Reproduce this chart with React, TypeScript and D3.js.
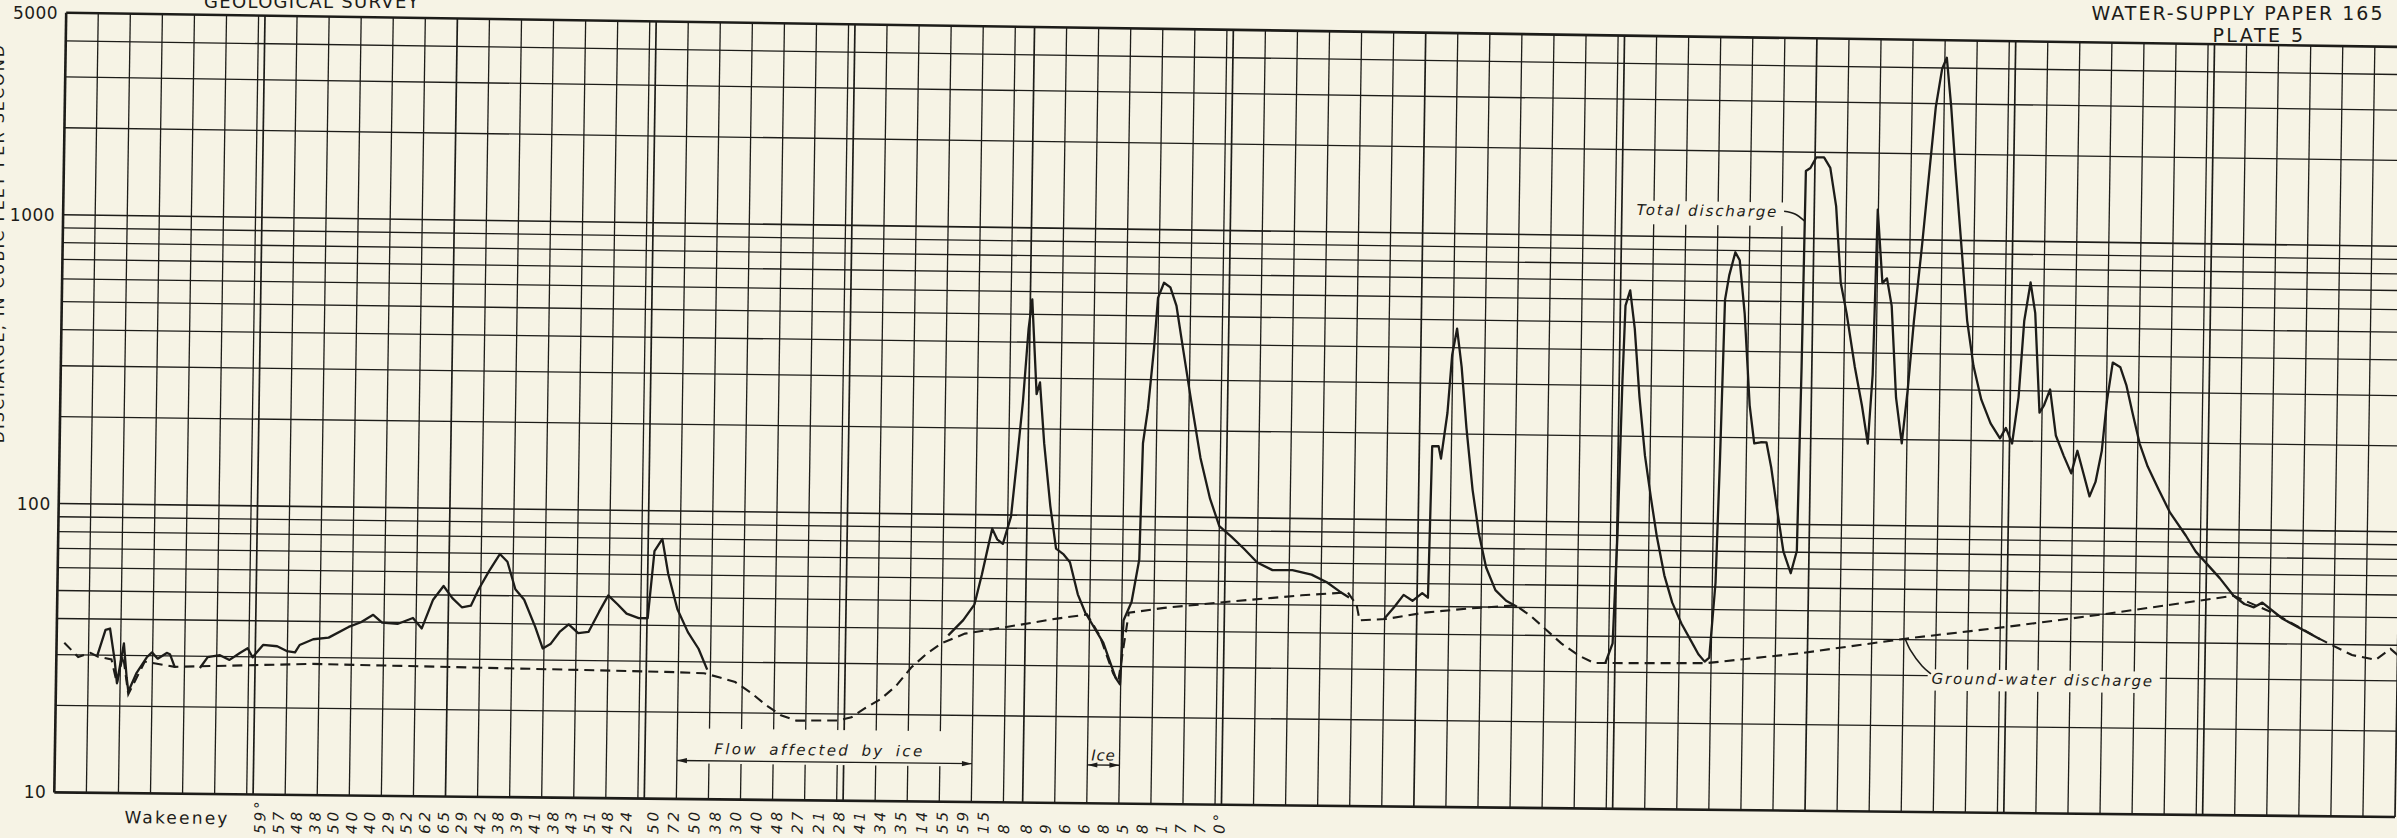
import React from "react";
import * as d3 from "d3";

// Hydrograph on log paper, water year Oct 1 - Sep 30 (day 0 = Oct 1)

const PAPER = "#f6f3e5";
const INK = "#1d1c19";

const monthLengths = [31, 30, 31, 31, 28, 31, 30, 31, 30, 31, 31, 30];
const gridStepDays = 5;
const yTickLabels = [10, 100, 1000, 5000];

// total discharge, [day of water year, cfs]; null breaks the line
const totalDischarge: ([number, number] | null)[] = [
  [6.4, 30], [7.6, 36.7], [8.3, 37.1], [9.1, 28.8], [9.5, 24], [10.5, 33], [11.0, 25.2], [11.3, 22.5],
  [12.5, 26], [14.1, 29.6], [14.9, 30.8], [15.8, 29.3], [17.2, 30.7], [17.7, 30.4], [18.5, 27.4],
  null,
  [22.4, 27.3], [23.6, 29.8], [25.5, 30.3], [27.0, 29.2], [28.6, 30.9], [29.8, 32.1], [30.6, 29.9],
  [32.2, 33.0], [34.4, 32.7], [35.9, 31.5], [37.2, 31.2], [37.9, 33.1], [40.0, 34.7], [42.4, 35.2],
  [45.5, 38.4], [47.4, 39.9], [49.3, 42.4], [50.7, 39.9], [53.1, 39.5], [55.5, 41.5], [56.9, 38.2],
  [58.6, 48.1], [60.2, 53.7], [61.6, 48.8], [63.1, 45.4], [64.5, 46.0], [65.7, 52.6], [67.3, 61.0],
  [68.9, 69.7], [70.1, 65.6], [71.4, 52.7], [72.8, 48.5], [74.6, 39.0], [75.8, 32.9], [77.0, 34.1],
  [78.4, 37.6], [79.8, 40.0], [81.3, 37.3], [82.9, 37.7], [84.5, 44.3], [85.9, 50.6], [87.4, 47.1],
  [88.8, 43.8], [90.7, 42.3], [92.1, 42.3], [93.0, 72.4], [94.2, 79.9], [95.2, 60.4], [96.7, 45.7],
  [98.4, 38.0], [100.1, 33.3], [101.5, 28.2],
  null,
  [139, 37.9], [141.3, 42.9], [143.0, 48.6], [144.1, 61.9], [145.0, 77.3], [145.6, 89.5], [146.4, 82.2],
  [147.3, 79.3], [148.5, 98.7], [149.3, 155], [150.1, 251], [150.8, 446], [151.3, 564], [152.2, 264],
  [152.7, 290], [153.5, 178], [154.6, 108], [155.6, 76.7], [156.8, 73.3], [157.8, 68.9], [159.1, 53.3],
  [160.3, 46.1], [163.2, 36.2], [165.2, 27.4], [165.9, 26], [166.3, 43.5], [167.5, 50.4], [168.6, 70.9],
  [168.9, 180], [169.6, 238], [170.4, 386], [170.9, 578], [171.8, 653], [172.8, 630], [173.8, 543],
  [174.8, 400], [176.3, 255], [177.9, 161], [179.5, 116], [181.0, 93.4], [182.9, 85.9], [184.9, 78.0],
  [187.0, 70.0], [189.4, 65.9], [192.5, 66], [195.5, 63.8], [197.9, 60.1], [199.9, 55.9], [201.4, 53.3],
  null,
  [206.9, 45], [208.5, 49.7], [209.9, 54.7], [211.3, 52.2], [212.8, 55.6], [213.7, 53.6], [214.0, 181],
  [215.0, 181], [215.4, 164], [216.3, 237], [216.9, 378], [217.6, 466], [218.4, 343], [219.3, 210],
  [220.4, 128], [221.5, 89.8], [222.7, 68.7], [224.2, 57.3], [225.9, 52.7], [227.6, 50.3],
  null,
  [241.5, 32.2], [242.6, 37.8], [243.1, 90.5], [243.5, 309], [243.8, 571], [244.5, 646], [245.3, 475],
  [246.2, 274], [247.2, 171], [248.2, 123], [249.2, 90.5], [250.5, 65.6], [251.8, 52.7], [253.3, 44.5],
  [254.8, 38.9], [256.0, 34.9], [257.0, 32.9], [257.7, 34], [258.5, 62.1], [258.9, 168], [259.3, 604],
  [259.9, 736], [260.8, 887], [261.5, 832], [262.4, 542], [263.4, 259], [264.2, 191], [265.2, 193],
  [266.1, 193], [266.9, 158], [268.0, 110], [269.0, 80.5], [270.2, 67.5], [271.1, 80.8], [271.4, 355],
  [271.6, 1718], [272.3, 1762], [273.2, 1921], [274.4, 1921], [275.4, 1767], [276.4, 1300], [277.3, 702],
  [278.3, 548], [279.7, 357], [280.9, 262], [281.9, 193], [282.5, 336], [282.9, 1270], [283.8, 703],
  [284.5, 731], [285.3, 586], [286.2, 280], [287.2, 194], [288.0, 299], [288.8, 520], [289.9, 964],
  [290.9, 1786], [291.7, 2917], [292.6, 3972], [293.3, 4345], [294.1, 2931], [294.9, 1794], [296.0, 971],
  [297.1, 525], [298.2, 364], [299.5, 278], [301.0, 230], [302.5, 204], [303.4, 222], [304.4, 196],
  [305.3, 285], [306.0, 526], [306.9, 718], [307.7, 561], [308.6, 252], [309.3, 268], [310.2, 304],
  [311.2, 210], [312.5, 178], [313.7, 155], [314.6, 186], [315.6, 155], [316.6, 129], [317.5, 145],
  [318.4, 186], [319.1, 280], [319.9, 380], [321.1, 366], [322.1, 316], [323.1, 254], [324.3, 198],
  [325.6, 165], [327.3, 138], [329.2, 114], [331.7, 95], [333.3, 83.5], [337.1, 67.6], [339.3, 58.7],
  [341.0, 55], [342.5, 53.6], [343.8, 55.7], [347, 49], [352.9, 41.7],
];

// ground-water discharge (dashed)
const groundWaterDischarge: [number, number][] = [
  [1.2, 33], [3.4, 29.5], [5.3, 30.5], [6.5, 29.6], [8.6, 29], [9.5, 24], [10.4, 30], [11.3, 22],
  [13.8, 28.6], [18.5, 27.5], [40, 28.5], [70, 28], [95, 27.6], [101, 27.4], [103.5, 26.5], [105.9, 25.6],
  [108.3, 23.6], [110.7, 21.4], [113.1, 19.7], [115.5, 18.9], [122.1, 19.0], [124.1, 19.5], [126.2, 21.0],
  [128.6, 22.6], [131.0, 25.2], [133.3, 29.2], [135.7, 32.7], [138.0, 35.6], [141.6, 38.5], [148.7, 41.0],
  [155.9, 43.8], [160.6, 45.4], [162.6, 38.4], [164.8, 28.4], [165.6, 26.5], [167.1, 46.2], [172.6, 48.2],
  [182.1, 50.8], [194.0, 54.0], [201.2, 55.5], [202.6, 50.2], [203.1, 44.4], [207.2, 45.0], [213.1, 47.5],
  [220.3, 49.4], [227.4, 50.8], [229.8, 46.7], [232.2, 41.9], [234.6, 37.6], [237.4, 34.1], [239.8, 32.2],
  [257.2, 32.5], [271.9, 35.5], [288.2, 40.3], [303.9, 44.7], [319.4, 50.1], [339.3, 58.7], [345.9, 50.9],
  [352.9, 41.7], [357.9, 36.8], [361.6, 35.5], [363.9, 38.8], [365, 37],
];

// readings printed along the bottom for Wakeeney
const wakeeneyDays = [
  32.1, 35.0, 37.8, 40.7, 43.5, 46.4, 49.2, 52.1, 54.9, 57.8, 60.7, 63.5, 66.4, 69.2, 72.1, 74.9, 77.8,
  80.6, 83.5, 86.3, 89.2,
  93.4, 96.6, 99.8, 103.1, 106.3, 109.5, 112.7, 115.9, 119.2, 122.4, 125.6, 128.8, 132.0, 135.3, 138.5,
  141.7, 144.9, 148.1,
  151.6, 154.6, 157.6, 160.6, 163.6, 166.6, 169.7, 172.7, 175.7, 178.7, 181.7,
];
const wakeeneyReadings = [
  "59°", "57", "48", "38", "50", "40", "40", "29", "52", "62", "65", "29", "42", "38", "39", "41", "38",
  "43", "51", "48", "24",
  "50", "72", "50", "38", "30", "40", "48", "27", "21", "28", "41", "34", "35", "14", "55", "59", "15", "8",
  "8", "9", "6", "6", "8", "5", "8", "1", "7", "7", "0°",
];

// frame corners of the scanned sheet (page px)
const TL = [66.2, 12.8];
const TR = [2406.9, 47];
const BL = [54.3, 792.4];
const BR = [2395, 817];
const W = 2340.7;
const H = 779.6;

const x = d3.scaleLinear().domain([0, 365]).range([0, W]);
const y = d3.scaleLog().domain([10, 5000]).range([H, 0]);

function warp(px: number, py: number): [number, number] {
  const u = px / W;
  const v = py / H;
  return [
    (1 - u) * (1 - v) * TL[0] + u * (1 - v) * TR[0] + (1 - u) * v * BL[0] + u * v * BR[0],
    (1 - u) * (1 - v) * TL[1] + u * (1 - v) * TR[1] + (1 - u) * v * BL[1] + u * v * BR[1],
  ];
}
const pt = (d: number, q: number) => warp(x(d), y(q));
const angleAt = (px: number, py: number) => {
  const a = warp(px, py);
  const b = warp(px + 100, py);
  return (Math.atan2(b[1] - a[1], b[0] - a[0]) * 180) / Math.PI;
};
const poly = (pts: [number, number][]) => "M" + pts.map((p) => p.join(",")).join("L") + "Z";
const seg = (a: [number, number], b: [number, number]) => `M${a[0]},${a[1]}L${b[0]},${b[1]}`;

const monthStarts = Array.from(d3.cumsum([0, ...monthLengths]));
const minorDays = monthLengths.flatMap((len, i) =>
  d3.range(gridStepDays, len, gridStepDays).map((o) => monthStarts[i] + o)
);

const flowLine = d3
  .line<[number, number] | null>()
  .defined((d) => d !== null)
  .x((d) => pt(d![0], d![1])[0])
  .y((d) => pt(d![0], d![1])[1]);

const leader = d3
  .line<[number, number]>()
  .x((d) => pt(d[0], d[1])[0])
  .y((d) => pt(d[0], d[1])[1])
  .curve(d3.curveCatmullRom);

function arrowHead(tip: [number, number], from: [number, number]) {
  const dx = tip[0] - from[0];
  const dy = tip[1] - from[1];
  const len = Math.hypot(dx, dy);
  const ux = dx / len;
  const uy = dy / len;
  const b: [number, number] = [tip[0] - ux * 10, tip[1] - uy * 10];
  return poly([tip, [b[0] - uy * 2.6, b[1] + ux * 2.6], [b[0] + uy * 2.6, b[1] - ux * 2.6]]);
}

function Label({ d, q, text, size = 15, anchor = "start", spacing = 1.85, wordSpacing = 0 }: any) {
  const [px, py] = pt(d, q);
  return (
    <text
      transform={`translate(${px},${py}) rotate(${angleAt(x(d), y(q))})`}
      fontSize={size}
      fontStyle="italic"
      letterSpacing={spacing}
      wordSpacing={wordSpacing}
      textAnchor={anchor}
      fill={INK}
    >
      {text}
    </text>
  );
}

export default function App() {
  const masks: [number, number, number, number][] = [
    [244.6, 268.4, 1100, 1330],
    [291.8, 328, 26.6, 31.6],
    [97.3, 142.7, 13.3, 17.6],
    [161.3, 165.7, 13.3, 17.6],
  ];

  const iceL = pt(97, 13.6);
  const iceR = pt(143, 13.6);
  const ice2L = pt(161, 13.6);
  const ice2R = pt(166, 13.6);

  return (
    <>
      <style>{`html,body{margin:0;background:${PAPER};}`}</style>
      <svg
        width={2397}
        height={838}
        style={{ display: "block", background: PAPER }}
        fontFamily="'DejaVu Sans', sans-serif"
      >
        <rect width={2397} height={838} fill={PAPER} />

        {/* horizontal log grid */}
        {y.ticks().map((t) => (
          <path
            key={"h" + t}
            d={seg(warp(0, y(t)), warp(W, y(t)))}
            stroke={INK}
            strokeWidth={t === 10 || t === 5000 ? 2.6 : t === 100 || t === 1000 ? 1.6 : 1.3}
            fill="none"
          />
        ))}

        {/* 5-day grid and month lines */}
        {minorDays.map((d) => (
          <path key={"v" + d} d={seg(warp(x(d), 0), warp(x(d), H))} stroke={INK} strokeWidth={1.3} />
        ))}
        {monthStarts.map((d) => (
          <path
            key={"m" + d}
            d={seg(warp(x(d), 0), warp(x(d), H))}
            stroke={INK}
            strokeWidth={d === 0 ? 2.6 : 1.7}
          />
        ))}

        {/* paper showing through behind lettering */}
        {masks.map(([d0, d1, q0, q1], i) => (
          <path key={"mask" + i} d={poly([pt(d0, q0), pt(d1, q0), pt(d1, q1), pt(d0, q1)])} fill={PAPER} />
        ))}

        {/* curves */}
        <path
          d={flowLine(groundWaterDischarge) || ""}
          fill="none"
          stroke={INK}
          strokeWidth={2.1}
          strokeDasharray="10 6"
        />
        <path d={flowLine(totalDischarge) || ""} fill="none" stroke={INK} strokeWidth={2.3} strokeLinejoin="round" />

        {/* annotations */}
        <Label d={245.3} q={1184} text="Total discharge" />
        <path
          d={leader([[268.3, 1240], [270.0, 1215], [271.5, 1150]]) || ""}
          fill="none"
          stroke={INK}
          strokeWidth={1.6}
        />
        <Label d={292.4} q={28.1} text="Ground-water discharge" />
        <path
          d={leader([[288.2, 40.3], [289.1, 36.6], [290.9, 32.4], [292.3, 30.4]]) || ""}
          fill="none"
          stroke={INK}
          strokeWidth={1.6}
        />

        <Label d={119.2} q={14.35} text="Flow affected by ice" anchor="middle" spacing={2.4} wordSpacing={4} />
        <path d={seg(iceL, iceR)} stroke={INK} strokeWidth={1.4} />
        <path d={arrowHead(iceL, iceR)} fill={INK} />
        <path d={arrowHead(iceR, iceL)} fill={INK} />

        <Label d={163.5} q={14.1} text="Ice" anchor="middle" spacing={0.8} />
        <path d={seg(ice2L, ice2R)} stroke={INK} strokeWidth={1.4} />
        <path d={arrowHead(ice2L, ice2R)} fill={INK} />
        <path d={arrowHead(ice2R, ice2L)} fill={INK} />

        {/* y axis labels */}
        {yTickLabels.map((t) => {
          const [px, py] = warp(-8, y(t));
          return (
            <text
              key={"yl" + t}
              x={px}
              y={py}
              dy="0.36em"
              textAnchor="end"
              fontSize={17}
              letterSpacing={0.5}
              fill={INK}
            >
              {t}
            </text>
          );
        })}

        {/* axis title, trimmed off the left edge of the sheet */}
        <text transform="translate(4,43) rotate(-90)" textAnchor="end" fontSize={16} letterSpacing={2} fill={INK}>
          DISCHARGE, IN CUBIC FEET PER SECOND
        </text>

        {/* Wakeeney readings */}
        {(() => {
          const [px, py] = warp(x(11), H + 30);
          return (
            <text
              transform={`translate(${px},${py}) rotate(${angleAt(x(11), H + 30)})`}
              fontSize={17}
              letterSpacing={2.2}
              fill={INK}
            >
              Wakeeney
            </text>
          );
        })()}
        {wakeeneyDays.map((d, i) => {
          const [px] = warp(x(d), H + 30);
          return (
            <text
              key={"w" + i}
              transform={`translate(${px},834) rotate(${-90 + angleAt(x(d), H)})`}
              dy="0.36em"
              fontSize={15}
              fontStyle="italic"
              letterSpacing={3}
              fill={INK}
            >
              {wakeeneyReadings[i]}
            </text>
          );
        })}

        {/* sheet headings */}
        <text x={312} y={8} textAnchor="middle" fontSize={18} letterSpacing={1.3} fill={INK}>
          GEOLOGICAL SURVEY
        </text>
        <text x={2238} y={20} textAnchor="middle" fontSize={19} letterSpacing={2} fill={INK}>
          WATER-SUPPLY PAPER 165
        </text>
        <text x={2259} y={42} textAnchor="middle" fontSize={19} letterSpacing={2.5} fill={INK}>
          PLATE 5
        </text>
      </svg>
    </>
  );
}
